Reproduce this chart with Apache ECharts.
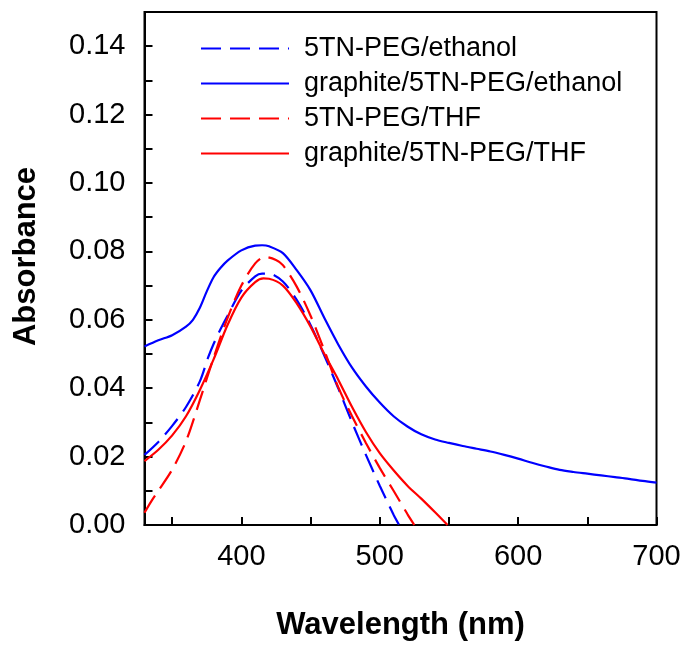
<!DOCTYPE html>
<html>
<head>
<meta charset="utf-8">
<script src="https://cdn.jsdelivr.net/npm/echarts@6/dist/echarts.min.js"></script>
<style>
html,body{margin:0;padding:0;background:#fff;}
#chart{width:687px;height:646px;}
</style>
</head>
<body>
<div id="chart"></div>
<script>
// ---- data ----
const seriesNames = ['5TN-PEG/ethanol', 'graphite/5TN-PEG/ethanol', '5TN-PEG/THF', 'graphite/5TN-PEG/THF'];

const wlEthanol = [330, 340, 350, 360, 370, 376, 380, 385, 390, 400, 410, 415, 420, 430, 440, 450, 460, 470, 480, 490, 500, 510, 514];
const absEthanol = [0.0205, 0.0243, 0.0290, 0.0345, 0.0420, 0.0490, 0.0530, 0.0573, 0.0612, 0.0685, 0.0727, 0.0735, 0.0735, 0.0712, 0.0658, 0.0585, 0.0495, 0.0400, 0.0300, 0.0205, 0.0115, 0.0030, 0.0000];

const wlGraphiteEthanol = [330, 340, 350, 360, 365, 370, 375, 380, 385, 390, 400, 410, 415, 420, 430, 440, 450, 460, 470, 480, 490, 500, 510, 520, 530, 540, 550, 560, 570, 580, 590, 600, 610, 620, 630, 640, 650, 660, 670, 680, 690, 700];
const absGraphiteEthanol = [0.0522, 0.0540, 0.0555, 0.0580, 0.0600, 0.0635, 0.0683, 0.0725, 0.0752, 0.0773, 0.0803, 0.0817, 0.0818, 0.0815, 0.0795, 0.0745, 0.0686, 0.0605, 0.0528, 0.0460, 0.0405, 0.0358, 0.0318, 0.0288, 0.0265, 0.0250, 0.0240, 0.0231, 0.0223, 0.0215, 0.0205, 0.0194, 0.0182, 0.0171, 0.0161, 0.0155, 0.0150, 0.0145, 0.0140, 0.0135, 0.0129, 0.0124];

const wlTHF = [330, 335, 340, 350, 360, 370, 380, 390, 400, 410, 417, 425, 430, 440, 450, 460, 470, 480, 490, 500, 510, 520, 525];
const absTHF = [0.0036, 0.0070, 0.0100, 0.0162, 0.0245, 0.0365, 0.0490, 0.0605, 0.0700, 0.0765, 0.0784, 0.0775, 0.0760, 0.0697, 0.0612, 0.0510, 0.0403, 0.0318, 0.0240, 0.0167, 0.0100, 0.0032, 0.0000];

const wlGraphiteTHF = [330, 340, 350, 360, 370, 380, 390, 400, 410, 416, 420, 430, 440, 450, 460, 470, 480, 490, 500, 510, 520, 530, 540, 549];
const absGraphiteTHF = [0.0187, 0.0220, 0.0262, 0.0318, 0.0395, 0.0485, 0.0585, 0.0665, 0.0710, 0.0721, 0.0720, 0.0700, 0.0648, 0.0580, 0.0500, 0.0425, 0.0345, 0.0272, 0.0210, 0.0160, 0.0115, 0.0077, 0.0037, 0.0000];

const xMin = 330, xMax = 700, xStep = 10;
const xTickValues = [350, 400, 450, 500, 550, 600, 650, 700];
const xLabels = [400, 500, 600, 700];
const yLabels = [0.00, 0.02, 0.04, 0.06, 0.08, 0.10, 0.12, 0.14];

// ---- chart ----
const pair = (xs, ys) => xs.map((x, i) => [x, ys[i]]);
const xCats = [];
for (let v = xMin; v <= xMax; v += xStep) xCats.push(String(v));

const FONT = 'Liberation Sans, Arial, sans-serif';
const BLUE = '#0000ff', RED = '#ff0000';
const DASH = [20, 9];

const chart = echarts.init(document.getElementById('chart'), null, {renderer: 'canvas'});

function mkSeries(name, data, color, dashed) {
  return {
    name: name, type: 'line', data: data, symbol: 'none', smooth: 0.3,
    xAxisIndex: 0,
    lineStyle: {color: color, width: 2.2, type: dashed ? DASH : 'solid'},
    itemStyle: {color: color},
    emphasis: {disabled: true}, animation: false
  };
}

chart.setOption({
  backgroundColor: '#fff',
  animation: false,
  grid: {left: 144.5, right: 30.5, top: 12, bottom: 120, show: true, borderColor: '#000', borderWidth: 2, backgroundColor: 'transparent'},
  legend: {
    orient: 'vertical', left: 195, top: 30,
    itemWidth: 88, itemHeight: 25, itemGap: 8,
    itemStyle: {opacity: 0},
    textStyle: {fontFamily: FONT, fontSize: 27, color: '#000', padding: [0, 0, 0, 10]},
    data: seriesNames
  },
  xAxis: [
    {
      type: 'value', min: xMin, max: xMax, show: false
    },
    {
      type: 'category', data: xCats, boundaryGap: false, position: 'bottom',
      name: 'Wavelength (nm)', nameLocation: 'middle', nameGap: 85,
      nameTextStyle: {fontFamily: FONT, fontSize: 31, fontWeight: 'bold', color: '#000'},
      axisLine: {show: true, lineStyle: {color: '#000', width: 2}},
      axisTick: {show: true, inside: true, length: 8, lineStyle: {color: '#000', width: 2},
        interval: (i, v) => xTickValues.indexOf(Number(v)) >= 0},
      splitLine: {show: false},
      axisLabel: {
        margin: 17, fontFamily: FONT, fontSize: 29, color: '#000',
        interval: (i, v) => xLabels.indexOf(Number(v)) >= 0
      }
    }
  ],
  yAxis: {
    type: 'value', min: 0, max: 0.15, interval: 0.01,
    name: 'Absorbance', nameLocation: 'middle', nameGap: 103, nameRotate: 90,
    nameTextStyle: {fontFamily: FONT, fontSize: 31, fontWeight: 'bold', color: '#000', padding: [0, 0, 0, 24]},
    axisLine: {show: true, lineStyle: {color: '#000', width: 2}},
    axisTick: {show: true, inside: true, length: 8, lineStyle: {color: '#000', width: 2}},
    splitLine: {show: false},
    axisLabel: {
      margin: 19, fontFamily: FONT, fontSize: 29, color: '#000',
      formatter: v => {
        const f = yLabels.find(t => Math.abs(t - v) < 1e-6);
        return f === undefined ? '' : f.toFixed(2);
      }
    }
  },
  series: [
    mkSeries(seriesNames[0], pair(wlEthanol, absEthanol), BLUE, true),
    mkSeries(seriesNames[1], pair(wlGraphiteEthanol, absGraphiteEthanol), BLUE, false),
    mkSeries(seriesNames[2], pair(wlTHF, absTHF), RED, true),
    mkSeries(seriesNames[3], pair(wlGraphiteTHF, absGraphiteTHF), RED, false)
  ]
});
</script>
</body>
</html>
